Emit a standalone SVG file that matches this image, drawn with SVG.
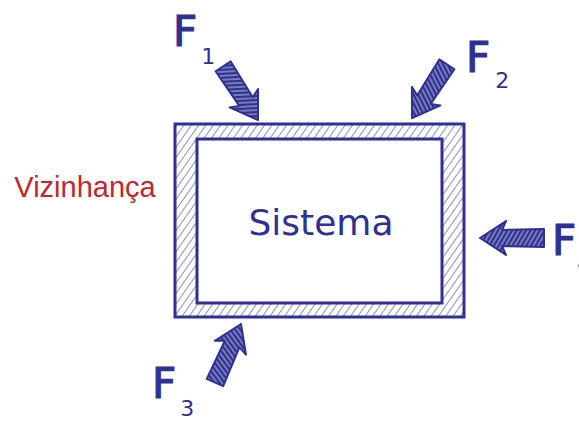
<svg xmlns="http://www.w3.org/2000/svg" width="579" height="421" viewBox="0 0 579 421">
<style>
.lbl{font-family:"DejaVu Sans","Liberation Sans",sans-serif;fill:#2e3192}
.big{font-size:42px;stroke:#2e3192;stroke-width:1.2}
.sub{font-size:22px}
.arrow{fill:url(#arrowHatch);stroke:#2e3192;stroke-width:2;stroke-linejoin:round}
</style>
<defs>
<pattern id="wallHatch" patternUnits="userSpaceOnUse" width="6" height="6" patternTransform="rotate(35)">
<rect width="6" height="6" fill="#fff"/>
<line x1="0" y1="0" x2="0" y2="6" stroke="#2e3192" stroke-width="1.1"/>
</pattern>
<pattern id="arrowHatch" patternUnits="userSpaceOnUse" width="4" height="4" patternTransform="rotate(30)">
<rect width="4" height="4" fill="#2e3192"/>
<line x1="2" y1="0" x2="2" y2="4" stroke="#ffffff" stroke-width="0.9" opacity="0.8"/>
</pattern>
<polygon id="blockArrow" points="0,0 -26,-17 -22,-8 -64,-9 -64,9 -22,8 -26,17"/>
</defs>
<rect width="579" height="421" fill="#fff"/>

<g id="sistema">
<path d="M175,124 H464 V317 H175 Z M197,139 V303 H442 V139 Z" fill="url(#wallHatch)" fill-rule="evenodd"/>
<rect x="175" y="124" width="289" height="193" fill="none" stroke="#2e3192" stroke-width="3"/>
<rect x="197" y="139" width="245" height="164" fill="#fff" stroke="#2e3192" stroke-width="3"/>
<text class="lbl" x="321" y="235" font-size="36" text-anchor="middle">Sistema</text>
</g>

<g id="vizinhanca">
<text x="85" y="197" font-family="Liberation Sans, Arial, sans-serif" font-size="29" fill="#c1272d" text-anchor="middle">Vizinhança</text>
</g>

<g id="F1"><text class="lbl" x="173" y="46"><tspan class="big">F</tspan><tspan class="sub" dx="4" dy="18">1</tspan></text></g>
<g id="F2"><text class="lbl" x="466" y="72"><tspan class="big">F</tspan><tspan class="sub" dx="5" dy="16">2</tspan></text></g>
<g id="F3"><text class="lbl" x="152" y="398"><tspan class="big">F</tspan><tspan class="sub" dx="4" dy="18">3</tspan></text></g>
<g id="F4"><text class="lbl" x="552" y="255"><tspan class="big">F</tspan><tspan class="sub" dx="1" dy="16">4</tspan></text></g>

<g id="connectors">
<use href="#blockArrow" class="arrow" transform="translate(258,120) rotate(57)"/>
<use href="#blockArrow" class="arrow" transform="translate(412,118) rotate(123)"/>
<use href="#blockArrow" class="arrow" transform="translate(480,238) rotate(180)"/>
<use href="#blockArrow" class="arrow" transform="translate(241,324) rotate(-66)"/>
</g>
</svg>
